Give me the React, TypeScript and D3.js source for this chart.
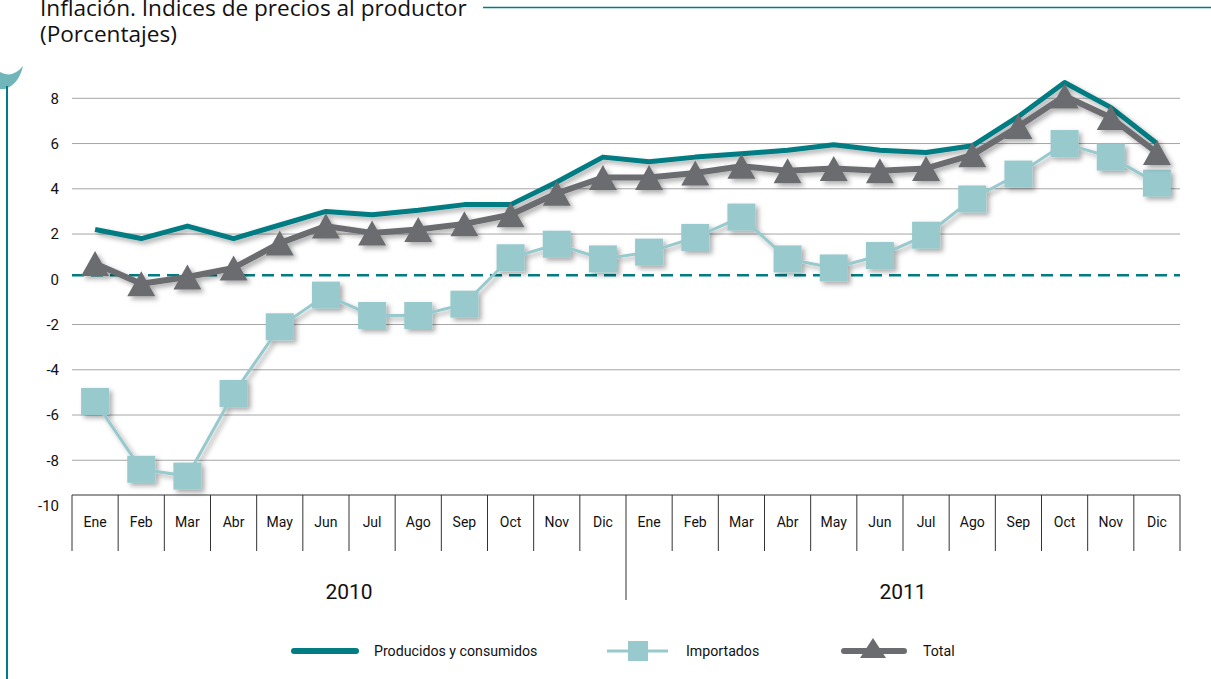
import React from "react";
import * as d3 from "d3";

const months = ["Ene", "Feb", "Mar", "Abr", "May", "Jun", "Jul", "Ago", "Sep", "Oct", "Nov", "Dic"];
const years = ["2010", "2011"];
const yTicks = [8, 6, 4, 2, 0, -2, -4, -6, -8, -10];

const producidos = [2.2, 1.8, 2.35, 1.8, 2.4, 3.0, 2.85, 3.05, 3.3, 3.3, 4.3, 5.4, 5.2, 5.4, 5.55, 5.7, 5.95, 5.7, 5.6, 5.9, 7.2, 8.7, 7.6, 6.0];
const importados = [-5.4, -8.4, -8.7, -5.05, -2.1, -0.7, -1.6, -1.6, -1.1, 0.95, 1.55, 0.9, 1.2, 1.85, 2.75, 0.9, 0.5, 1.05, 1.95, 3.55, 4.65, 6.0, 5.4, 4.25];
const total = [0.7, -0.2, 0.1, 0.5, 1.6, 2.35, 2.05, 2.2, 2.45, 2.85, 3.8, 4.5, 4.5, 4.7, 5.0, 4.8, 4.9, 4.8, 4.9, 5.5, 6.75, 8.1, 7.15, 5.6];

const TEAL = "#007C82";
const LIGHT = "#97C9CD";
const GRAY = "#6B6C70";
const TITLE_FONT = "'Open Sans', sans-serif";
const FONT = "Roboto, 'Open Sans', sans-serif";

export default function App() {
  const W = 1211, H = 679;
  const left = 72, right = 1180;
  const boxTop = 495, boxBottom = 551, yearDivBottom = 600;
  const labels = years.flatMap((yr) => months.map((m) => `${m} ${yr}`));
  const x = d3.scaleBand<string>().domain(labels).range([left, right]).paddingInner(0).paddingOuter(0);
  const cx = (i: number) => (x(labels[i]) as number) + x.bandwidth() / 2;
  const y = d3.scaleLinear().domain([-10, 8]).range([505.5, 98.3]);

  const line = d3.line<number>().x((_, i) => cx(i)).y((d) => y(d));

  const tri = (px: number, py: number, w: number, h: number) =>
    `M${px},${py - h / 2}L${px + w / 2},${py + h / 2}L${px - w / 2},${py + h / 2}Z`;

  return (
    <svg width={W} height={H} style={{ position: "absolute", left: 0, top: 0, background: "#fff" }} fontFamily={FONT}>
      <defs>
        <filter id="sh" x="-50%" y="-50%" width="200%" height="200%">
          <feDropShadow dx="3" dy="3" stdDeviation="2.8" floodColor="#000" floodOpacity="0.33" />
        </filter>
      </defs>
      {/* title */}
      <text x={40} y={16} fontSize={22.6} fill="#111" fontFamily={TITLE_FONT}>Inflación. Índices de precios al productor</text>
      <text x={40} y={42} fontSize={22.6} fill="#111" fontFamily={TITLE_FONT}>(Porcentajes)</text>
      <line x1={483} x2={W} y1={7.5} y2={7.5} stroke={TEAL} strokeWidth={1.3} />
      {/* left decoration */}
      <path d="M0,72 Q12,79 23,66 Q19,84 5,89 L0,89 Z" fill="#6FB5BA" />
      <line x1={7} x2={7} y1={86} y2={H} stroke={TEAL} strokeWidth={2} />

      {/* gridlines */}
      {yTicks.filter((t) => t !== 0 && t !== -10).map((t) => (
        <line key={t} x1={left} x2={right} y1={y(t)} y2={y(t)} stroke="#A6A6A6" strokeWidth={1} />
      ))}
      {yTicks.map((t) => (
        <text key={"l" + t} x={59} y={y(t)} dy="0.35em" textAnchor="end" fontSize={15} fill="#111">{t}</text>
      ))}
      <line x1={left} x2={right} y1={y(0) - 4} y2={y(0) - 4} stroke={TEAL} strokeWidth={2.5} strokeDasharray="12 7" />

      {/* category box */}
      <line x1={left} x2={right} y1={boxTop} y2={boxTop} stroke="#333" strokeWidth={1} />
      {labels.map((lab, i) => (
        <g key={lab}>
          <line x1={x(lab) as number} x2={x(lab) as number} y1={boxTop} y2={i === 12 ? yearDivBottom : boxBottom} stroke="#333" strokeWidth={1} />
          <text x={cx(i)} y={527} textAnchor="middle" fontSize={14} fill="#111">{lab.split(" ")[0]}</text>
        </g>
      ))}
      <line x1={right} x2={right} y1={boxTop} y2={boxBottom} stroke="#333" strokeWidth={1} />
      {years.map((yr, k) => {
        const a = cx(k * 12), b = cx(k * 12 + 11);
        return (
          <text key={yr} x={(a + b) / 2} y={599} textAnchor="middle" fontSize={21} fill="#111">{yr}</text>
        );
      })}

      {/* Importados */}
      <g filter="url(#sh)">
        <path d={line(importados) as string} fill="none" stroke={LIGHT} strokeWidth={3} />
        {importados.map((v, i) => (
          <rect key={i} x={cx(i) - 14} y={y(v) - 13.5} width={28} height={27} fill={LIGHT} />
        ))}
      </g>
      {/* Producidos */}
      <path d={line(producidos) as string} fill="none" stroke={TEAL} strokeWidth={5} strokeLinejoin="round" filter="url(#sh)" />
      {/* Total */}
      <g filter="url(#sh)">
        <path d={line(total) as string} fill="none" stroke={GRAY} strokeWidth={6} strokeLinejoin="round" />
        {total.map((v, i) => (
          <path key={i} d={tri(cx(i), y(v), 28, 25)} fill={GRAY} />
        ))}
      </g>

      {/* legend */}
      <line x1={294} x2={356} y1={651} y2={651} stroke={TEAL} strokeWidth={6} strokeLinecap="round" />
      <text x={374} y={651} dy="0.35em" fontSize={14.2} fill="#111">Producidos y consumidos</text>
      <line x1={607} x2={668} y1={651} y2={651} stroke={LIGHT} strokeWidth={3} />
      <rect x={628} y={641} width={20} height={20} fill={LIGHT} />
      <text x={686} y={651} dy="0.35em" fontSize={14.2} fill="#111">Importados</text>
      <line x1={844} x2={904} y1={651} y2={651} stroke={GRAY} strokeWidth={6} strokeLinecap="round" />
      <path d={tri(873, 648, 26, 20)} fill={GRAY} />
      <text x={923} y={651} dy="0.35em" fontSize={14.2} fill="#111">Total</text>
    </svg>
  );
}
